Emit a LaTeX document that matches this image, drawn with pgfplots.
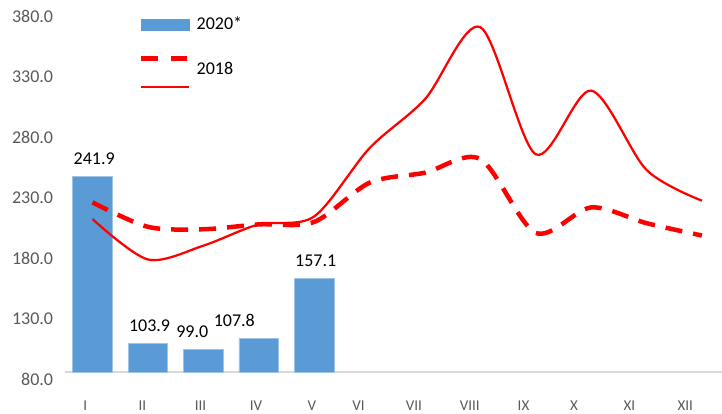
\documentclass[border=0pt]{standalone}
\usepackage{fontspec}
\setmainfont{Carlito}
\usepackage{pgfplots}
\pgfplotsset{compat=1.18}
\definecolor{barblue}{HTML}{5B9BD5}
\definecolor{baredge}{HTML}{9DC3E6}
\definecolor{ticktext}{HTML}{595959}
\begin{document}
\begin{tikzpicture}
\useasboundingbox (-64.8pt,-41pt) rectangle (657.2pt,372pt);
\begin{axis}[
  scale only axis, width=664.8pt, height=363pt,
  xmin=-0.5, xmax=11.5, ymin=80, ymax=380,
  axis x line*=bottom, axis y line*=left,
  x axis line style={draw=black!15, line width=1.5pt, -},
  y axis line style={draw=none, -},
  major tick length=0pt,
  /pgf/number format/assume math mode=true,
  ytick={80,130,180,230,280,330,380},
  yticklabel style={font=\fontsize{18}{20}\selectfont, text=ticktext, anchor=east, inner sep=0pt,
    xshift=-11.5pt, yshift=-7.7pt,
    /pgf/number format/fixed, /pgf/number format/fixed zerofill, /pgf/number format/precision=1},
  xtick={-0.13,0.90,1.95,2.95,3.96,4.80,5.80,6.81,7.78,8.69,9.69,10.70},
  xticklabels={I,II,III,IV,V,VI,VII,VIII,IX,X,XI,XII},
  xticklabel style={font=\fontsize{15}{17}\selectfont, text=ticktext, anchor=base, inner sep=0pt, yshift=-38.7pt},
  legend style={draw=none, fill=none, at={(rel axis cs:0,1)}, anchor=north west,
    xshift=74.2pt, yshift=-8pt, row sep=15pt, column sep=6.6pt, inner sep=0pt, outer sep=0pt,
    nodes={font=\fontsize{18}{20}\selectfont, inner sep=0pt, text height=12pt, text depth=4pt}},
  legend cell align=left,
]
\addplot[ybar, bar width=39.5pt, fill=barblue, draw=baredge, line width=0.6pt,
  legend image code/.code={\fill[barblue] (0pt,-5.5pt) rectangle (47.7pt,5.5pt);}]
  coordinates {(0,241.9)(1,103.9)(2,99.0)(3,107.8)(4,157.1)};
\addlegendentry{2020*}
\addplot[red, line width=4.5pt, dash pattern=on 17pt off 11pt, smooth, mark=none,
  legend image code/.code={\draw[red, line width=4.5pt, dash pattern=on 16.7pt off 12.7pt] (0pt,-2.3pt) -- (46pt,-2.3pt);}]
  coordinates {(0,220.2)(1,200)(2,198)(3,202)(4,204)(5,236.4)(6,244.7)(7,256)(8,195)(9,216)(10,203)(11,192.8)};
\addlegendentry{\raisebox{-14pt}[0pt][0pt]{2018}}
\addplot[red, line width=2.25pt, smooth, mark=none,
  legend image code/.code={\draw[red, line width=2.25pt] (0pt,0pt) -- (47.7pt,0pt);}]
  coordinates {(0,206.4)(1,173)(2,184.4)(3,202)(4,208.5)(5,265)(6,305.4)(7,365)(8,260)(9,312.6)(10,247)(11,221.6)};
\addlegendentry{}
\addplot[draw=none, mark=none, forget plot, nodes near coords, point meta=explicit symbolic,
  nodes near coords style={anchor=base, yshift=12pt, inner sep=0pt, text=black, font=\fontsize{18}{20}\selectfont}]
  coordinates {(0.03,241.9)[241.9] (1.03,103.9)[103.9] (1.80,99.0)[99.0] (2.56,107.8)[107.8] (4.03,157.1)[157.1]};
\end{axis}
\end{tikzpicture}
\end{document}
